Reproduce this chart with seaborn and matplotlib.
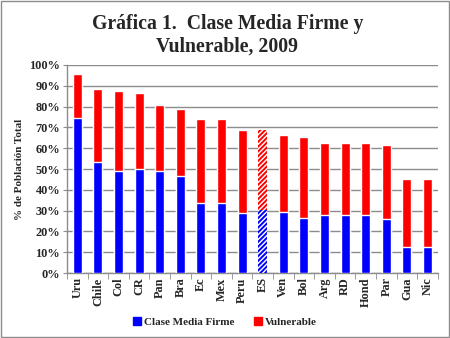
import numpy as np
import pandas as pd
import matplotlib
matplotlib.use("Agg")
import matplotlib.pyplot as plt
import seaborn as sns
from matplotlib.patches import Rectangle
from matplotlib.ticker import PercentFormatter, FixedLocator

countries = ["Uru", "Chile", "Col", "CR", "Pan", "Bra", "Ec", "Mex", "Peru", "ES",
             "Ven", "Bol", "Arg", "RD", "Hond", "Par", "Gua", "Nic"]
firme = [74.7, 53.2, 48.9, 50.2, 48.9, 46.6, 33.7, 33.7, 28.8, 30.3,
         29.2, 26.6, 27.7, 27.7, 27.7, 26.1, 12.5, 12.5]
vulnerable = [21.0, 35.3, 38.4, 36.3, 31.7, 32.4, 40.5, 40.5, 40.1, 38.6,
              37.0, 38.9, 34.8, 34.8, 34.8, 35.6, 32.8, 32.8]
total = [f + v for f, v in zip(firme, vulnerable)]

df = pd.DataFrame({"pais": countries, "firme": firme, "total": total})

sns.set_style("white")
plt.rcParams["font.family"] = ["Liberation Serif", "DejaVu Serif"]
plt.rcParams["hatch.linewidth"] = 1.4

fig = plt.figure(figsize=(4.5, 3.38), dpi=100)
ax = fig.add_axes([0.149, 0.192, 0.824, 0.616])

BLUE = "#0000ff"
RED = "#ff0000"
sns.barplot(data=df, x="pais", y="total", color=RED, saturation=1, width=0.44, ax=ax, zorder=3)
sns.barplot(data=df, x="pais", y="firme", color=BLUE, saturation=1, width=0.44, ax=ax, zorder=3)

n = len(countries)
es = countries.index("ES")
patches = ax.patches
for p in (patches[es], patches[n + es]):
    fc = p.get_facecolor()
    p.set_facecolor("white")
    p.set_edgecolor(fc)
    p.set_hatch("///////")
    p.set_linewidth(0)

ax.set_ylim(0, 100)
ax.set_xlim(-0.5, n - 0.5)
ax.set_yticks(np.arange(0, 101, 10))
ax.yaxis.set_major_formatter(PercentFormatter(decimals=0))
ax.yaxis.grid(True, color="#8c8c8c", linewidth=1, zorder=0)
ax.set_axisbelow(True)
for s in ["top", "right"]:
    ax.spines[s].set_visible(False)
for s in ["left", "bottom"]:
    ax.spines[s].set_color("#8c8c8c")
    ax.spines[s].set_linewidth(1)

ax.tick_params(axis="y", which="major", length=3, color="#8c8c8c", labelsize=8.8, pad=2, direction="out", left=True)
ax.tick_params(axis="x", which="major", length=0, labelsize=8.8, pad=3)
ax.xaxis.set_minor_locator(FixedLocator(np.arange(-0.5, n, 1.0)))
ax.tick_params(axis="x", which="minor", length=4, color="#8c8c8c", direction="out", bottom=True)
ax.set_xticks(range(n))
ax.set_xticklabels(countries, rotation=90, fontweight="bold")
for t in ax.get_yticklabels():
    t.set_fontweight("bold")
ax.set_xlabel("")
ax.set_ylabel("% de Población Total", fontsize=8, fontweight="bold", labelpad=4)

fig.text(0.505, 0.958, "Gráfica 1.  Clase Media Firme y\nVulnerable, 2009", ha="center", va="top",
         fontsize=14.2, fontweight="bold", linespacing=1.15)

handles = [Rectangle((0, 0), 1, 1, color=BLUE), Rectangle((0, 0), 1, 1, color=RED)]
fig.legend(handles, ["Clase Media Firme", "Vulnerable"], loc="center", bbox_to_anchor=(0.5, 0.047),
           ncol=2, frameon=False, prop={"weight": "bold", "size": 8}, handlelength=0.7,
           handleheight=0.7, handletextpad=0.3, columnspacing=1.8)

fig.patches.append(Rectangle((0.002, 0.003), 0.995, 0.994, transform=fig.transFigure, fill=False,
                             edgecolor="#8c8c8c", linewidth=1))

fig.savefig("out.png", dpi=100)
